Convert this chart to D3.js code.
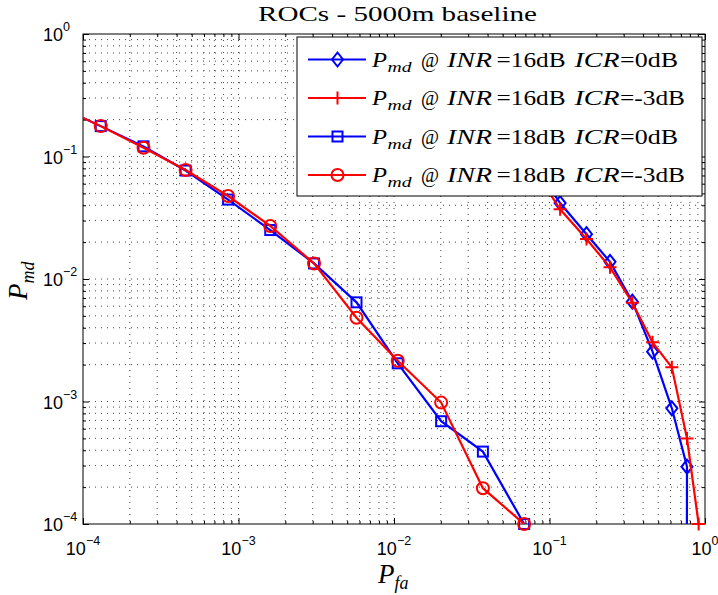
<!DOCTYPE html>
<html>
<head>
<meta charset="utf-8">
<script src="https://cdn.jsdelivr.net/npm/d3@7"></script>
<style>
    body { margin: 0; background: #fff; }
    svg { display: block; }
</style>
</head>
<body>
<div id="chart"></div>
<script>
// Datos
const pfa16icr0 = [0.03, 0.05, 0.08, 0.117, 0.173, 0.245, 0.341, 0.46, 0.612, 0.766, 0.76];
const pmd16icr0 = [0.35, 0.2, 0.085, 0.0417, 0.0232, 0.0138, 0.00653, 0.00255, 0.00088, 0.000294, 0.000001];

const pfa16icr3 = [0.03, 0.05, 0.08, 0.117, 0.173, 0.245, 0.341, 0.46, 0.612, 0.766, 0.91];
const pmd16icr3 = [0.33, 0.18, 0.078, 0.0371, 0.0212, 0.01246, 0.0064, 0.00304, 0.0019, 0.0005, 0.0001];

const pfa18 = [7e-5, 1.3e-4, 2.45e-4, 4.57e-4, 8.57e-4, 1.6e-3, 3.06e-3, 5.74e-3, 0.01057, 0.0201, 0.0373, 0.0687];
const pmd18icr0 = [0.255, 0.177, 0.121, 0.0768, 0.0445, 0.0251, 0.0134, 0.00645, 0.00205, 0.00069, 0.00039, 0.0001];
const pmd18icr3 = [0.255, 0.177, 0.118, 0.0776, 0.0476, 0.0271, 0.0134, 0.00483, 0.00215, 0.00098, 0.000196, 0.0001];

const tickValues = [1e-4, 1e-3, 1e-2, 1e-1, 1];
const tickExponents = ["\u22124", "\u22123", "\u22122", "\u22121", "0"];

const legendInr = ["16", "16", "18", "18"];
const legendIcr = ["0", "-3", "0", "-3"];

const series = [
    { x: pfa16icr0, y: pmd16icr0, color: "#0000ff", marker: "diamond" },
    { x: pfa16icr3, y: pmd16icr3, color: "#ff0000", marker: "plus" },
    { x: pfa18, y: pmd18icr0, color: "#0000ff", marker: "square" },
    { x: pfa18, y: pmd18icr3, color: "#ff0000", marker: "circle" }
];

// Dimensiones
var margin = { top: 34, right: 13, bottom: 71, left: 83 },
    width = 718 - margin.left - margin.right,
    height = 595 - margin.top - margin.bottom;

const svg = d3.select("#chart").append("svg")
    .attr("width", 718)
    .attr("height", 595);

const g = svg.append("g")
    .attr("transform", `translate(${margin.left}, ${margin.top})`);

const x = d3.scaleLog().domain([1e-4, 1]).range([0, width]);
const y = d3.scaleLog().domain([1e-4, 1]).range([height, 0]);

// Valores menores (2..9 por decada)
const minor = [];
for (var e = -4; e < 0; e++) {
    for (var k = 2; k <= 9; k++) minor.push(k * Math.pow(10, e));
}
const allGrid = tickValues.concat(minor);

// Rejilla punteada
g.append("g").selectAll("line.gx")
    .data(allGrid.filter(d => d > 1e-4 && d < 1))
    .enter().append("line")
    .attr("x1", d => x(d)).attr("x2", d => x(d))
    .attr("y1", 0).attr("y2", height)
    .attr("stroke", "#444").attr("stroke-width", 1)
    .attr("stroke-dasharray", "1,5");

g.append("g").selectAll("line.gy")
    .data(allGrid.filter(d => d > 1e-4 && d < 1))
    .enter().append("line")
    .attr("y1", d => y(d)).attr("y2", d => y(d))
    .attr("x1", 0).attr("x2", width)
    .attr("stroke", "#444").attr("stroke-width", 1)
    .attr("stroke-dasharray", "1,5");

// Marcas de los ejes (hacia adentro, los cuatro lados)
function ticks(axisGen, values, len, transform) {
    g.append("g")
        .attr("transform", transform)
        .call(axisGen.tickValues(values).tickSize(len).tickFormat(""))
        .call(a => a.select(".domain").remove())
        .call(a => a.selectAll(".tick line").attr("stroke", "#000").attr("stroke-width", 1));
}
ticks(d3.axisTop(x), tickValues, 6, `translate(0,${height})`);
ticks(d3.axisTop(x), minor, 3, `translate(0,${height})`);
ticks(d3.axisBottom(x), tickValues, 6, "translate(0,0)");
ticks(d3.axisBottom(x), minor, 3, "translate(0,0)");
ticks(d3.axisRight(y), tickValues, 6, "translate(0,0)");
ticks(d3.axisRight(y), minor, 3, "translate(0,0)");
ticks(d3.axisLeft(y), tickValues, 6, `translate(${width},0)`);
ticks(d3.axisLeft(y), minor, 3, `translate(${width},0)`);

// Etiquetas 10^n
const tickFont = "'Liberation Sans', Arial, sans-serif";
tickValues.forEach(function (v, i) {
    // eje x
    var tx = g.append("text")
        .attr("x", x(v))
        .attr("y", height + 31)
        .attr("text-anchor", "middle")
        .style("font-family", tickFont)
        .style("font-size", "18px")
        .attr("fill", "#000");
    tx.append("tspan").text("10");
    tx.append("tspan").attr("dy", -10).style("font-size", "12.5px").text(tickExponents[i]);

    // eje y ("10" alineado a la izquierda)
    var ty = g.append("text")
        .attr("x", -40)
        .attr("y", y(v) + 7)
        .attr("text-anchor", "start")
        .style("font-family", tickFont)
        .style("font-size", "18px")
        .attr("fill", "#000");
    ty.append("tspan").text("10");
    ty.append("tspan").attr("dy", -10).style("font-size", "12.5px").text(tickExponents[i]);
});

// Caja del eje
g.append("rect")
    .attr("width", width).attr("height", height)
    .attr("fill", "none").attr("stroke", "#000").attr("stroke-width", 1);

// Recorte para las lineas
svg.append("defs").append("clipPath").attr("id", "clip")
    .append("rect").attr("width", width).attr("height", height);

const line = d3.line()
    .x(d => x(d[0]))
    .y(d => y(d[1]));

function marker(sel, type, color) {
    if (type === "diamond") {
        sel.append("path").attr("d", "M0,-7L5.5,0L0,7L-5.5,0Z")
            .attr("fill", "none").attr("stroke", color).attr("stroke-width", 2);
    } else if (type === "plus") {
        sel.append("path").attr("d", "M-6.5,0H6.5M0,-6.5V6.5")
            .attr("fill", "none").attr("stroke", color).attr("stroke-width", 2);
    } else if (type === "square") {
        sel.append("rect").attr("x", -5).attr("y", -5).attr("width", 10).attr("height", 10)
            .attr("fill", "none").attr("stroke", color).attr("stroke-width", 2);
    } else {
        sel.append("circle").attr("r", 6)
            .attr("fill", "none").attr("stroke", color).attr("stroke-width", 2);
    }
}

series.forEach(function (s) {
    var pts = s.x.map((v, i) => [v, s.y[i]]);
    g.append("path")
        .datum(pts)
        .attr("clip-path", "url(#clip)")
        .attr("fill", "none")
        .attr("stroke", s.color)
        .attr("stroke-width", 2.2)
        .attr("d", line);

    // marcadores solo dentro del dominio
    pts.filter(p => p[0] >= 0.99e-4 && p[0] <= 1 && p[1] >= 0.99e-4 && p[1] <= 1)
        .forEach(function (p) {
            var m = g.append("g").attr("transform", `translate(${x(p[0])},${y(p[1])})`);
            marker(m, s.marker, s.color);
        });
});

// Titulo y etiquetas de ejes
const serif = "'Liberation Serif', 'Times New Roman', serif";
svg.append("text")
    .attr("x", 258)
    .attr("y", 21)
    .attr("textLength", 279)
    .attr("lengthAdjust", "spacingAndGlyphs")
    .style("font-family", serif)
    .style("font-size", "21px")
    .text("ROCs - 5000m baseline");

var xl = svg.append("text")
    .attr("x", margin.left + width / 2 - 16)
    .attr("y", 583)
    .style("font-family", serif)
    .style("font-size", "27px");
xl.append("tspan").style("font-style", "italic").text("P");
xl.append("tspan").attr("dy", 6).style("font-style", "italic").style("font-size", "18px").text("fa");

var yl = svg.append("text")
    .attr("transform", "translate(27,300) rotate(-90)")
    .style("font-family", serif)
    .style("font-size", "27px");
yl.append("tspan").style("font-style", "italic").text("P");
yl.append("tspan").attr("dy", 7).style("font-style", "italic").style("font-size", "18px").text("md");

// Leyenda
const lg = svg.append("g").attr("transform", "translate(297,37)");
lg.append("rect")
    .attr("width", 405).attr("height", 159)
    .attr("fill", "#fff").attr("stroke", "#000").attr("stroke-width", 1);

series.forEach(function (s, i) {
    var cy = 22.5 + i * 38.5;
    lg.append("line")
        .attr("x1", 11).attr("x2", 69).attr("y1", cy).attr("y2", cy)
        .attr("stroke", s.color).attr("stroke-width", 2.2);
    var m = lg.append("g").attr("transform", `translate(40.5,${cy})`);
    marker(m, s.marker, s.color);

    // piezas del texto (estilo LaTeX)
    var base = cy + 7, x0 = 75;
    var pieces = [
        { t: "P", dx: 0, w: 15, it: true, size: 22 },
        { t: "md", dx: 15.5, w: 24, it: true, size: 15, dy: 5 },
        { t: "@", dx: 49, w: 18, it: false, size: 22 },
        { t: "INR", dx: 75, w: 45, it: true, size: 22 },
        { t: "=" + legendInr[i] + "dB", dx: 124.5, w: 69, it: false, size: 22 },
        { t: "ICR", dx: 202.5, w: 45, it: true, size: 22 },
        { t: "=" + legendIcr[i] + "dB", dx: 248, w: legendIcr[i] === "0" ? 58 : 65, it: false, size: 22 }
    ];
    pieces.forEach(function (p) {
        lg.append("text")
            .attr("x", x0 + p.dx)
            .attr("y", base + (p.dy || 0))
            .attr("textLength", p.w)
            .attr("lengthAdjust", "spacingAndGlyphs")
            .style("font-family", serif)
            .style("font-style", p.it ? "italic" : "normal")
            .style("font-size", p.size + "px")
            .text(p.t);
    });
});
</script>
</body>
</html>
